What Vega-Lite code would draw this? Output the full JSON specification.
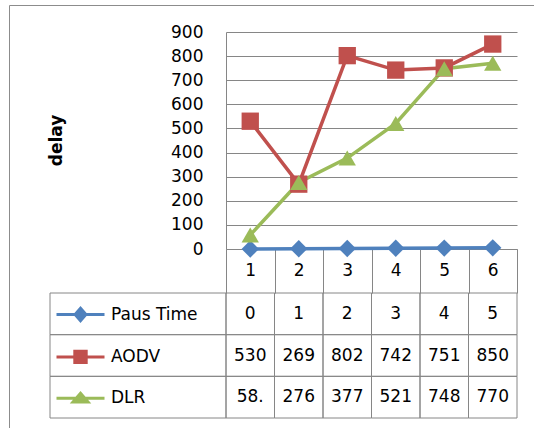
{
  "$schema": "https://vega.github.io/schema/vega-lite/v6.json",
  "width": 526,
  "height": 424,
  "autosize": "none",
  "padding": {"left": 9, "top": 5, "right": -1, "bottom": -1},
  "background": "white",
  "config": {
    "view": {"stroke": "#8c8c8c", "strokeWidth": 1},
    "axis": {"labelFont": "DejaVu Sans", "titleFont": "DejaVu Sans"},
    "legend": {"labelFont": "DejaVu Sans"},
    "text": {"font": "DejaVu Sans"}
  },
  "data": {
    "values": [
      {"cat": 1, "series": "Paus Time", "value": 0, "label": "0"},
      {"cat": 2, "series": "Paus Time", "value": 1, "label": "1"},
      {"cat": 3, "series": "Paus Time", "value": 2, "label": "2"},
      {"cat": 4, "series": "Paus Time", "value": 3, "label": "3"},
      {"cat": 5, "series": "Paus Time", "value": 4, "label": "4"},
      {"cat": 6, "series": "Paus Time", "value": 5, "label": "5"},
      {"cat": 1, "series": "AODV", "value": 530, "label": "530"},
      {"cat": 2, "series": "AODV", "value": 269, "label": "269"},
      {"cat": 3, "series": "AODV", "value": 802, "label": "802"},
      {"cat": 4, "series": "AODV", "value": 742, "label": "742"},
      {"cat": 5, "series": "AODV", "value": 751, "label": "751"},
      {"cat": 6, "series": "AODV", "value": 850, "label": "850"},
      {"cat": 1, "series": "DLR", "value": 58, "label": "58."},
      {"cat": 2, "series": "DLR", "value": 276, "label": "276"},
      {"cat": 3, "series": "DLR", "value": 377, "label": "377"},
      {"cat": 4, "series": "DLR", "value": 521, "label": "521"},
      {"cat": 5, "series": "DLR", "value": 748, "label": "748"},
      {"cat": 6, "series": "DLR", "value": 770, "label": "770"}
    ]
  },
  "resolve": {"scale": {"x": "independent", "y": "independent"}},
  "layer": [
    {
      "layer": [
        {
          "mark": {"type": "line", "strokeWidth": 3.5},
          "encoding": {
            "x": {
              "field": "cat", "type": "ordinal",
              "scale": {"type": "band", "range": [217, 508], "paddingInner": 0, "paddingOuter": 0},
              "axis": {
                "orient": "bottom", "offset": -180, "title": null, "grid": false,
                "domain": true, "domainColor": "#868686", "domainWidth": 1,
                "ticks": true, "tickBand": "extent", "tickSize": 44, "tickColor": "#868686", "tickWidth": 1,
                "labelFontSize": 17, "labelColor": "#000", "labelAngle": 0,
                "labelBaseline": "middle", "labelPadding": -23
              }
            },
            "y": {
              "field": "value", "type": "quantitative",
              "scale": {"domain": [0, 900], "range": [244, 27], "nice": false},
              "axis": {
                "orient": "left", "offset": -217,
                "values": [0, 100, 200, 300, 400, 500, 600, 700, 800, 900],
                "domain": true, "domainColor": "#868686", "domainWidth": 1,
                "ticks": false, "tickSize": 0,
                "grid": true, "gridColor": "#868686", "gridWidth": 1,
                "labelFontSize": 17, "labelColor": "#000", "labelPadding": 23,
                "title": "delay", "titleFontSize": 17, "titleFontWeight": "bold", "titleColor": "#000",
                "titleX": -170, "titleY": 135, "titleAngle": -90, "titleAlign": "center", "titleBaseline": "middle"
              }
            },
            "color": {
              "field": "series", "type": "nominal",
              "scale": {"domain": ["Paus Time", "AODV", "DLR"], "range": ["#4F81BD", "#C0504D", "#9BBB59"]},
              "legend": {
                "orient": "none", "legendX": 63, "legendY": 301, "direction": "vertical",
                "title": null, "padding": 0,
                "labelFontSize": 17, "labelColor": "#000", "labelOffset": 22,
                "symbolSize": 144, "symbolStrokeWidth": 3, "rowPadding": 17.4,
                "encode": {
                  "symbols": {
                    "update": {
                      "shape": {"signal": "datum.value === 'Paus Time' ? 'M-4,0H4M0,-1.05L0.9,0L0,1.05L-0.9,0Z' : datum.value === 'AODV' ? 'M-4,0H4M-0.95,-0.95H0.95V0.95H-0.95Z' : 'M-4,0H4M0,-0.85L1.25,0.6H-1.25Z'"},
                      "fill": {"signal": "datum.value === 'Paus Time' ? '#4F81BD' : datum.value === 'AODV' ? '#C0504D' : '#9BBB59'"},
                      "stroke": {"signal": "datum.value === 'Paus Time' ? '#4F81BD' : datum.value === 'AODV' ? '#C0504D' : '#9BBB59'"},
                      "strokeWidth": {"value": 3},
                      "size": {"value": 144},
                      "opacity": {"value": 1}
                    }
                  }
                }
              }
            }
          }
        },
        {
          "mark": {"type": "point", "filled": true, "size": 300, "opacity": 1},
          "encoding": {
            "x": {"field": "cat", "type": "ordinal"},
            "y": {"field": "value", "type": "quantitative"},
            "color": {"field": "series", "type": "nominal", "legend": null},
            "shape": {
              "condition": [
                {"test": "datum.series === 'AODV'", "value": "square"},
                {"test": "datum.series === 'DLR'", "value": "triangle-up"}
              ],
              "value": "diamond"
            }
          }
        }
      ]
    },
    {
      "encoding": {
        "x": {
          "field": "cat", "type": "ordinal",
          "scale": {"type": "band", "range": [217, 508], "paddingInner": 0, "paddingOuter": 0},
          "axis": null
        },
        "y": {
          "field": "series", "type": "nominal",
          "scale": {"type": "band", "domain": ["Paus Time", "AODV", "DLR"], "range": [288, 413], "paddingInner": 0, "paddingOuter": 0},
          "axis": null
        }
      },
      "layer": [
        {"mark": {"type": "rect", "fill": "transparent", "stroke": "#868686", "strokeWidth": 1}},
        {"mark": {"type": "text", "fontSize": 17, "color": "#000"}, "encoding": {"text": {"field": "label"}}}
      ]
    },
    {
      "transform": [{"filter": "datum.cat === 1"}],
      "mark": {"type": "rect", "fill": "transparent", "stroke": "#868686", "strokeWidth": 1},
      "encoding": {
        "x": {"datum": 0, "type": "quantitative", "scale": {"domain": [0, 1], "range": [41, 217]}, "axis": null},
        "x2": {"datum": 1},
        "y": {
          "field": "series", "type": "nominal",
          "scale": {"type": "band", "domain": ["Paus Time", "AODV", "DLR"], "range": [288, 413], "paddingInner": 0, "paddingOuter": 0},
          "axis": null
        }
      }
    }
  ]
}
